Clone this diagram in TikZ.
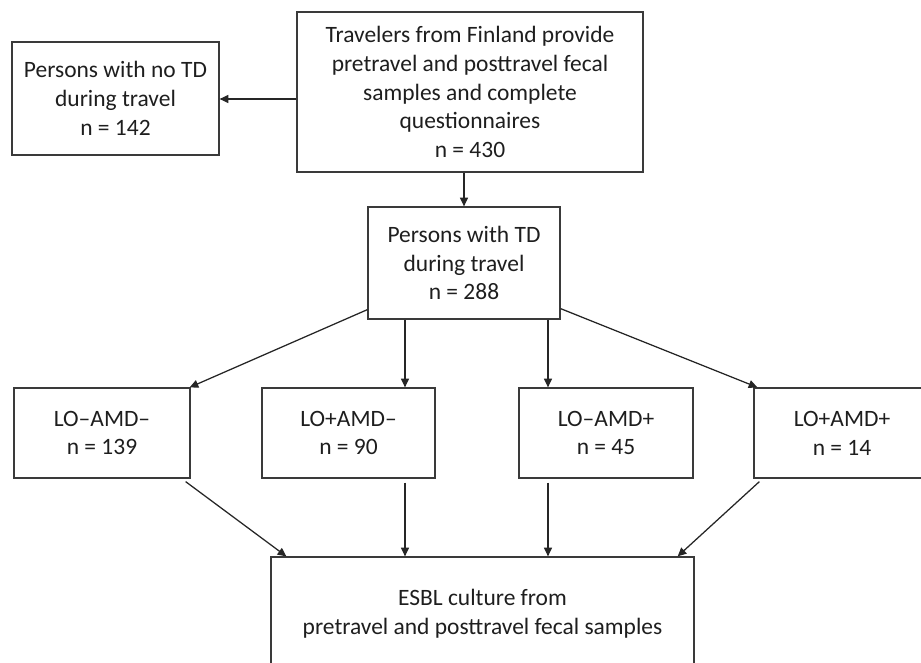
\documentclass[tikz,border=0pt]{standalone}
\usepackage{fontspec}
\setmainfont{Carlito}
\usetikzlibrary{arrows.meta,calc}
\definecolor{linec}{HTML}{3A3A3A}
\definecolor{textc}{HTML}{1E1E1E}
\tikzset{
  box/.style={draw=linec, line width=0.95pt, align=center, inner sep=0pt,
    text=textc, font=\fontsize{17.6}{21.6}\selectfont},
  arr/.style={draw=black!85, line width=0.95pt, -{Triangle[length=6.5pt,width=6pt]}}
}
\begin{document}
\begin{tikzpicture}[x=0.75pt,y=-0.75pt]
\useasboundingbox (0,0) rectangle (921,663);
\clip (0,0) rectangle (921,663);
% boxes
\node[box, minimum width=346*0.75pt, minimum height=160*0.75pt] (top) at (470,92)
  {Travelers from Finland provide\\pretravel and posttravel fecal\\samples and complete\\questionnaires\\n = 430};
\node[box, minimum width=207*0.75pt, minimum height=113*0.75pt] (left) at (115.5,98.5)
  {Persons with no TD\\during travel\\n = 142};
\node[box, minimum width=192*0.75pt, minimum height=112*0.75pt] (mid) at (464,263)
  {Persons with TD\\during travel\\n = 288};
\node[box, minimum width=176*0.75pt, minimum height=90*0.75pt] (b1) at (102,433)
  {LO–AMD–\\n = 139};
\node[box, minimum width=173*0.75pt, minimum height=90*0.75pt] (b2) at (348.5,433)
  {LO+AMD–\\n = 90};
\node[box, minimum width=174*0.75pt, minimum height=90*0.75pt] (b3) at (606,433)
  {LO–AMD+\\n = 45};
\node[box, minimum width=176*0.75pt, minimum height=90*0.75pt] (b4) at (842,433)
  {LO+AMD+\\n = 14};
\node[box, minimum width=423*0.75pt, minimum height=114*0.75pt] (bot) at (482.5,614)
  {ESBL culture from\\pretravel and posttravel fecal samples};
% helper coordinates
\coordinate (ya) at (0,99);
\coordinate (xa) at (405,0);
\coordinate (xb) at (548,0);
% connectors
\draw[arr] (top.west |- ya) -- (left.east |- ya);
\draw[arr] (top.south -| mid.north) -- (mid.north);
\draw[arr] ($(mid.south west)+(0,-10)$) -- ($(b1.north east)+(-1,0)$);
\draw[arr] (mid.south -| xa) -- (b2.north -| xa);
\draw[arr] (mid.south -| xb) -- (b3.north -| xb);
\draw[arr] ($(mid.south east)+(0,-11)$) -- ($(b4.north west)+(4,0)$);
\draw[arr] ($(b1.south east)+(-5,3)$) -- ($(bot.north west)+(16,0)$);
\draw[arr] ($(b2.south -| xa)+(0,4)$) -- (bot.north -| xa);
\draw[arr] ($(b3.south -| xb)+(0,4)$) -- (bot.north -| xb);
\draw[arr] ($(b4.south west)+(6,3)$) -- ($(bot.north east)+(-17,0)$);
\end{tikzpicture}
\end{document}
